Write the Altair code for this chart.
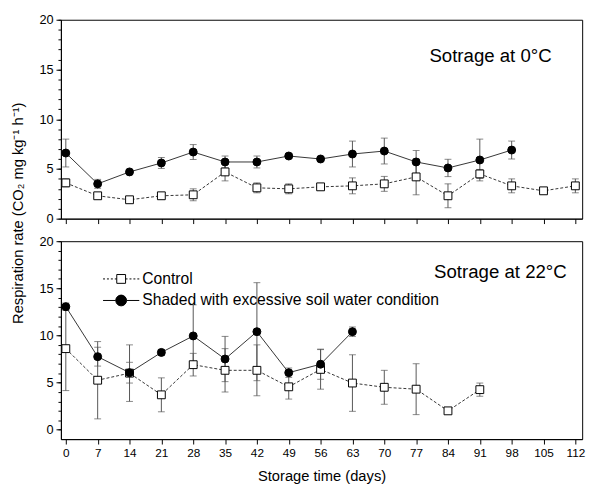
import altair as alt
import pandas as pd

FONT = "Liberation Sans"

# ---------------- data ----------------
days = list(range(0, 113, 7))
series_names = ["Control", "Shaded with excessive soil water condition"]

# Storage at 0 °C
top_ctrl = [3.6, 2.3, 1.9, 2.3, 2.4, 4.7, 3.1, 3.0, 3.2, 3.3, 3.5, 4.2, 2.3, 4.5, 3.3, 2.8, 3.3]
top_ctrl_err = [0.4, 0.2, 0.2, 0.3, 0.6, 0.9, 0.5, 0.5, 0.2, 0.8, 0.75, 1.8, 1.2, 0.45, 0.7, 0.2, 0.7]
top_shad = [6.6, 3.5, 4.7, 5.6, 6.7, 5.7, 5.7, 6.3, 6.0, 6.5, 6.8, 5.7, 5.1, 5.9, 6.9]
top_shad_err = [1.4, 0.45, 0.2, 0.55, 0.75, 0.6, 0.6, 0.2, 0.2, 1.3, 1.3, 1.15, 0.87, 2.1, 0.9]

# Storage at 22 °C
bot_ctrl = [8.6, 5.25, 6.0, 3.7, 6.9, 6.3, 6.3, 4.55, 6.4, 4.95, 4.5, 4.3, 2.0, 4.25]
bot_ctrl_err = [4.45, 4.1, 3.0, 1.8, 1.2, 2.3, 2.7, 1.3, 2.1, 3.0, 1.8, 2.7, 0.15, 0.7]
bot_shad = [13.05, 7.75, 6.05, 8.2, 9.95, 7.5, 10.4, 6.05, 6.95, 10.4]
bot_shad_err = [0.4, 1.0, 1.1, 0.3, 3.3, 2.4, 5.2, 0.5, 1.6, 0.5]

top_note = ["Sotrage at 0°C"]
top_note_x = [106.8]
top_note_y = [16.3]
bot_note = ["Sotrage at 22°C"]
bot_note_x = [110.1]
bot_note_y = [16.7]

y_major = [0, 5, 10, 15, 20]
y_minor = list(range(0, 21))

y_title = "Respiration rate (CO₂ mg kg⁻¹ h⁻¹)"
x_title = "Storage time (days)"


def frame(vals, errs, name):
    n = len(vals)
    return pd.DataFrame({
        "day": days[:n],
        "value": vals,
        "lo": [v - e for v, e in zip(vals, errs)],
        "hi": [v + e for v, e in zip(vals, errs)],
        "series": [name] * n,
    })


top_df = pd.concat([frame(top_ctrl, top_ctrl_err, series_names[0]),
                    frame(top_shad, top_shad_err, series_names[1])])
bot_df = pd.concat([frame(bot_ctrl, bot_ctrl_err, series_names[0]),
                    frame(bot_shad, bot_shad_err, series_names[1])])

X_DOMAIN = [-1.08, 113.5]

# legend symbols: line + marker as custom paths (unit = sqrt(size)/2 px)
U = 8.0
half_len = 18.5 / U
sq = 4.5 / U
rad = 5.5 / U


def dotted_side(sign):
    segs = []
    dash, gap = 2.0 / U, 2.0 / U
    x = -half_len
    while x + dash <= -sq + 1e-6:
        a, b = x, x + dash
        if sign > 0:
            a, b = -b, -a
        segs.append(f"M{a:.3f},0H{b:.3f}")
        x += dash + gap
    return "".join(segs)


path_ctrl = (dotted_side(-1) + dotted_side(1) +
             f"M{-sq:.3f},{-sq:.3f}H{sq:.3f}V{sq:.3f}H{-sq:.3f}Z")
path_shad = (f"M{-half_len:.3f},0H{-rad:.3f}M{rad:.3f},0H{half_len:.3f}"
             f"M{-rad:.3f},0A{rad:.3f},{rad:.3f} 0 1,0 {rad:.3f},0"
             f"A{rad:.3f},{rad:.3f} 0 1,0 {-rad:.3f},0Z")


def panel(df, ydomain, bottom, note, nx, ny):
    xaxis = alt.Axis(values=days, labels=bottom, title=x_title if bottom else None,
                     tickSize=5, labelFontSize=12, labelPadding=4,
                     titleFontSize=15, titlePadding=10)
    if bottom:
        yaxis = alt.Axis(values=y_major, tickSize=5, title=None, labelFontSize=13,
                         labelPadding=3, orient="left")
    else:
        yaxis = alt.Axis(values=y_major, tickSize=5, title=y_title, labelFontSize=13,
                         labelPadding=3, orient="left",
                         titleFontSize=15, titleX=-44, titleY=197, titleAngle=-90,
                         titleAlign="center", titleBaseline="middle")
    yminor = alt.Axis(values=y_minor, tickSize=3, labels=False, domain=False,
                      title=None, orient="left")
    xs = alt.Scale(domain=X_DOMAIN, nice=False, zero=False)
    ys = alt.Scale(domain=ydomain, nice=False, zero=False)
    X = alt.X("day:Q", scale=xs, axis=xaxis)
    Y = alt.Y("value:Q", scale=ys, axis=yaxis)

    base = alt.Chart(df)
    ctrl = base.transform_filter(alt.datum.series == series_names[0])
    shad = base.transform_filter(alt.datum.series == series_names[1])

    # error bar stems carry the minor-tick axis
    err_rule = base.mark_rule(color="#555", strokeWidth=1).encode(
        x=X, y=alt.Y("lo:Q", scale=ys, axis=yminor), y2="hi:Q")
    err_lo = base.mark_tick(color="#555", thickness=1, size=7, orient="horizontal").encode(
        x=X, y=alt.Y("lo:Q", scale=ys, axis=yaxis))
    err_hi = base.mark_tick(color="#555", thickness=1, size=7, orient="horizontal").encode(
        x=X, y=alt.Y("hi:Q", scale=ys, axis=yaxis))
    line_c = ctrl.mark_line(color="#333", strokeWidth=1, strokeDash=[3, 2]).encode(x=X, y=Y)
    line_s = shad.mark_line(color="#333", strokeWidth=1).encode(x=X, y=Y)
    pt_c = ctrl.mark_point(shape="square", filled=True, fill="white", stroke="black",
                           strokeWidth=1, size=64, opacity=1).encode(x=X, y=Y)
    pt_s = shad.mark_point(shape="circle", filled=True, fill="black", stroke="black",
                           strokeWidth=1, size=66, opacity=1).encode(x=X, y=Y)

    note_df = pd.DataFrame({"day": nx, "value": ny, "text": note})
    txt = alt.Chart(note_df).mark_text(align="right", baseline="middle", fontSize=19,
                                       font=FONT, color="black").encode(
        x=X, y=Y, text="text:N")

    layers = [err_lo, err_hi, line_c, line_s, pt_c, pt_s, txt]
    if bottom:
        leg_kwargs = dict(orient="none", legendX=53, legendY=30, title=None,
                          labelFontSize=16, labelFont=FONT, labelColor="black",
                          symbolSize=256, symbolStrokeColor="black", symbolStrokeWidth=1,
                          labelOffset=13, rowPadding=5, padding=0, labelLimit=500)
        leg = base.transform_filter("false").mark_point(
            filled=False, strokeWidth=1, size=256, opacity=1).encode(
            x=X, y=Y,
            shape=alt.Shape("series:N", scale=alt.Scale(domain=series_names,
                                                        range=[path_ctrl, path_shad]),
                            legend=alt.Legend(**leg_kwargs)),
            fill=alt.Fill("series:N", scale=alt.Scale(domain=series_names,
                                                      range=["white", "black"]),
                          legend=alt.Legend(**leg_kwargs)),
            stroke=alt.Stroke("series:N", scale=alt.Scale(domain=series_names,
                                                          range=["black", "black"]),
                              legend=alt.Legend(**leg_kwargs)),
        )
        layers.append(leg)
    inner = alt.layer(*layers)
    return alt.layer(err_rule, inner).resolve_axis(y="independent").properties(
        width=532, height=203 if not bottom else 202)


top = panel(top_df, [0, 20], False, top_note, top_note_x, top_note_y)
bot = panel(bot_df, [-1, 20], True, bot_note, bot_note_x, bot_note_y)

chart = alt.vconcat(top, bot, spacing=23, bounds="flush").resolve_scale(
    shape="independent", fill="independent", stroke="independent"
).properties(
    padding={"left": 2, "top": 0, "right": 5, "bottom": 5}
).configure_axis(
    grid=False, domainColor="black", tickColor="black", labelColor="black",
    titleColor="black", labelFont=FONT, titleFont=FONT, titleFontWeight="normal",
    domainWidth=1, tickWidth=1
).configure_view(stroke="black", strokeWidth=1)

chart.save("out.html", embed_options={"renderer": "svg", "actions": False})
